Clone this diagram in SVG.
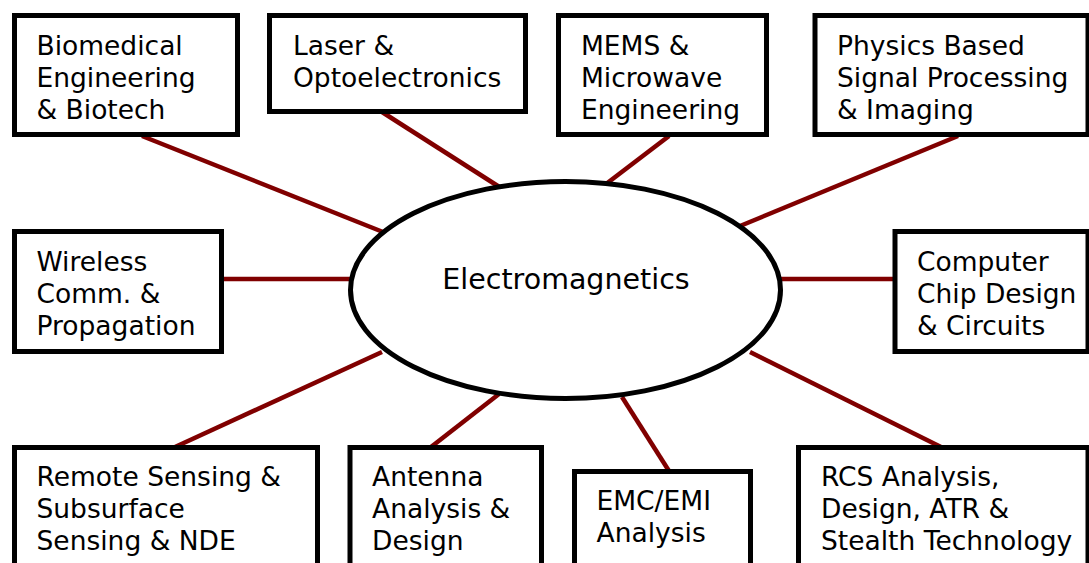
<svg xmlns="http://www.w3.org/2000/svg" width="1089" height="563" viewBox="0 0 1089 563">
  <style>
    .box { fill: #ffffff; stroke: #000000; stroke-width: 5; }
    .hub { fill: #ffffff; stroke: #000000; stroke-width: 5; }
    .link { stroke: #800000; stroke-width: 4.5; fill: none; }
    .lbl { font-family: "DejaVu Sans", Verdana, sans-serif; font-size: 26.5px; fill: #000000; }
    .hubtxt { font-family: "DejaVu Sans", Verdana, sans-serif; font-size: 28.5px; fill: #000000; text-anchor: middle; }
  </style>
  <rect width="1089" height="563" fill="#ffffff"/>

  <!-- spokes from the central topic to each field -->
  <g id="connectors">
    <line class="link" x1="142" y1="136" x2="383" y2="232"/>
    <line class="link" x1="382" y1="112" x2="501" y2="188"/>
    <line class="link" x1="669" y1="136" x2="606" y2="184"/>
    <line class="link" x1="958" y1="136" x2="740" y2="226"/>
    <line class="link" x1="222" y1="279" x2="351" y2="279"/>
    <line class="link" x1="781" y1="279" x2="895" y2="279"/>
    <line class="link" x1="175" y1="447" x2="382" y2="352"/>
    <line class="link" x1="431" y1="447" x2="499" y2="394"/>
    <line class="link" x1="669" y1="471" x2="622" y2="397"/>
    <line class="link" x1="941" y1="447" x2="750" y2="352"/>
  </g>

  <g id="hub">
    <ellipse class="hub" cx="565.5" cy="290" rx="215" ry="108.5"/>
    <text class="hubtxt" x="566" y="289">Electromagnetics</text>
  </g>

  <g id="biomedical">
    <rect class="box" x="14.5" y="15.5" width="223" height="119"/>
    <text class="lbl" x="36.5" y="55">Biomedical</text>
    <text class="lbl" x="36.5" y="87">Engineering</text>
    <text class="lbl" x="36.5" y="119">&amp; Biotech</text>
  </g>

  <g id="laser">
    <rect class="box" x="269.5" y="15.5" width="256" height="96"/>
    <text class="lbl" x="293" y="55">Laser &amp;</text>
    <text class="lbl" x="293" y="87">Optoelectronics</text>
  </g>

  <g id="mems">
    <rect class="box" x="558.5" y="15.5" width="208" height="119"/>
    <text class="lbl" x="581" y="55">MEMS &amp;</text>
    <text class="lbl" x="581" y="87">Microwave</text>
    <text class="lbl" x="581" y="119">Engineering</text>
  </g>

  <g id="signal-processing">
    <rect class="box" x="815" y="15.5" width="273" height="119"/>
    <text class="lbl" x="837" y="55">Physics Based</text>
    <text class="lbl" x="837" y="87">Signal Processing</text>
    <text class="lbl" x="837" y="119">&amp; Imaging</text>
  </g>

  <g id="wireless">
    <rect class="box" x="14.5" y="231.5" width="207" height="120"/>
    <text class="lbl" x="36.5" y="271">Wireless</text>
    <text class="lbl" x="36.5" y="303">Comm. &amp;</text>
    <text class="lbl" x="36.5" y="335">Propagation</text>
  </g>

  <g id="chip-design">
    <rect class="box" x="895" y="231.5" width="193" height="120"/>
    <text class="lbl" x="917" y="271">Computer</text>
    <text class="lbl" x="917" y="303">Chip Design</text>
    <text class="lbl" x="917" y="335">&amp; Circuits</text>
  </g>

  <g id="remote-sensing">
    <rect class="box" x="14.5" y="447.5" width="303" height="130"/>
    <text class="lbl" x="36.5" y="486">Remote Sensing &amp;</text>
    <text class="lbl" x="36.5" y="518">Subsurface</text>
    <text class="lbl" x="36.5" y="550">Sensing &amp; NDE</text>
  </g>

  <g id="antenna">
    <rect class="box" x="350" y="447.5" width="191.5" height="130"/>
    <text class="lbl" x="372" y="486">Antenna</text>
    <text class="lbl" x="372" y="518">Analysis &amp;</text>
    <text class="lbl" x="372" y="550">Design</text>
  </g>

  <g id="emc-emi">
    <rect class="box" x="574.5" y="471.5" width="176" height="110"/>
    <text class="lbl" x="596.5" y="510">EMC/EMI</text>
    <text class="lbl" x="596.5" y="542">Analysis</text>
  </g>

  <g id="rcs">
    <rect class="box" x="798.5" y="447.5" width="289.5" height="130"/>
    <text class="lbl" x="821" y="486">RCS Analysis,</text>
    <text class="lbl" x="821" y="518">Design, ATR &amp;</text>
    <text class="lbl" x="821" y="550">Stealth Technology</text>
  </g>
</svg>
